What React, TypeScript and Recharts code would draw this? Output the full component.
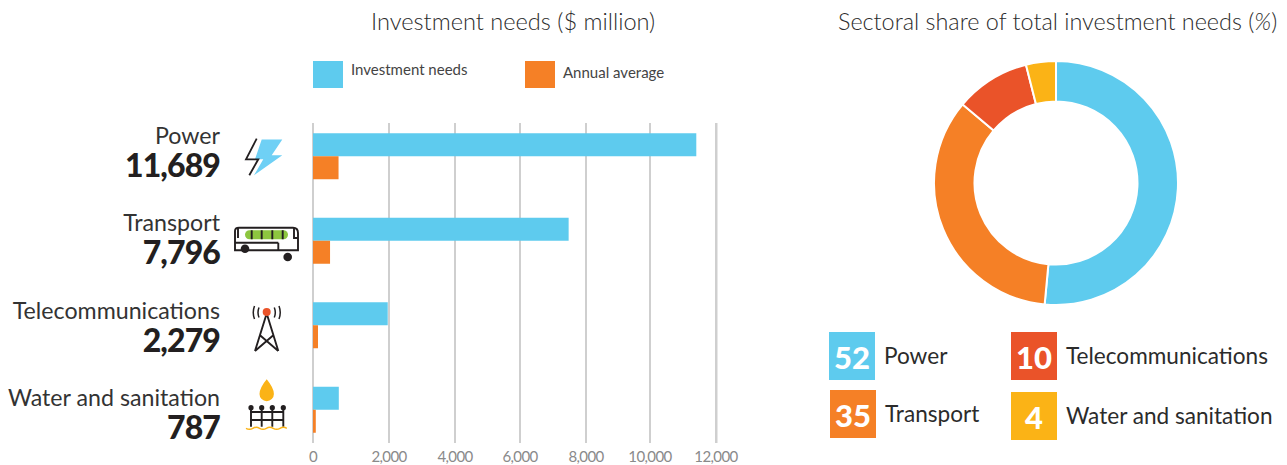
import { Bar, BarChart, CartesianGrid, Cell, Pie, PieChart, XAxis, YAxis } from "recharts"

const categories = ["Power", "Transport", "Telecommunications", "Water and sanitation"]
const investmentNeeds = [11689, 7796, 2279, 787]
const annualAverage = [779, 520, 152, 85]
const sectorShares = [52, 35, 10, 4]
const tickLabels = ["0", "2,000", "4,000", "6,000", "8,000", "10,000", "12,000"]
// the printed gridlines are unevenly spaced and run a little wide of the bars,
// so each label gets its own spot on the axis
const tickPositions = [0, 2318, 4330, 6313, 8325, 10277, 12290]
const axisMax = 12305

const BLUE = "#5ecbee"
const ORANGE = "#f58026"
const RED = "#ea5329"
const YELLOW = "#fbb316"
const INK = "#231f20"
const FONT = "Lato, 'Open Sans', sans-serif"

const sectorColors = [BLUE, ORANGE, RED, YELLOW]

const barData = categories.map((name, i) => ({
  name,
  needs: investmentNeeds[i],
  average: annualAverage[i],
}))
const pieData = categories.map((name, i) => ({ name, share: sectorShares[i] }))

function PowerIcon() {
  return (
    <g>
      <path d="M-4.3 -17 L16.3 -17 L5.7 -1.2 L16.3 -1.2 L-12 18.8 L-2.7 2.8 L-11 2.8 Z" fill="#6fd0f5" />
      <path d="M-9.3 -17.8 L-20 2.8 L-7.7 2.8 L-16.7 18.8" fill="none" stroke={INK} strokeWidth={1.8} />
    </g>
  )
}

function BusIcon() {
  return (
    <g fill="none" stroke={INK} strokeWidth={1.9}>
      <path d="M-31 9.3 L-31 -10 Q-31 -13.3 -27 -13.3 L27 -13.3 Q32 -13.3 32 -8 L32 9.3 Z" fill="#fff" />
      <rect x={-21} y={-10.7} width={43} height={9} rx={4.5} fill="#8dc63f" stroke="none" />
      <path d="M-14.3 -10.7 V-1.7 M-4.3 -10.7 V-1.7 M6.3 -10.7 V-1.7 M16.7 -10.7 V-1.7" />
      <path d="M-31 1.7 H12.3 M12.3 1.7 V9.3 M-28 -13 V-3 M28 -13 V-3 H32" />
      <circle cx={-21} cy={7.7} r={4.3} fill={INK} stroke="none" />
      <circle cx={21.7} cy={16} r={4.3} fill={INK} stroke="none" />
    </g>
  )
}

function TowerIcon() {
  return (
    <g fill="none" stroke={INK} strokeWidth={1.9}>
      <path d="M0.7 -12 L-11 25.5 M0.7 -12 L12.3 25.5 M-6 9.8 L12.3 25.5 M7.3 9.8 L-11 25.5" />
      <path d="M-7 -18 Q-9 -13 -7 -8 M8.3 -18 Q10.3 -13 8.3 -8 M-11.5 -19.5 Q-14 -13 -11.5 -6.5 M13 -19.5 Q15.5 -13 13 -6.5" strokeWidth={1.5} />
      <circle cx={0.7} cy={-13.5} r={4} fill={RED} stroke="none" />
    </g>
  )
}

function WaterIcon() {
  return (
    <g>
      <path d="M0.7 -30.7 Q-6.5 -22 -6.5 -16 A7.2 7.2 0 0 0 7.9 -16 Q7.9 -22 0.7 -30.7 Z" fill={YELLOW} />
      <g fill="none" stroke={INK} strokeWidth={1.9}>
        <path d="M-15 -2 V16.7 M-4.3 -2 V16.7 M6.3 -2 V16.7 M17.3 -2 V16.7 M-16 2 H18 M-16 10 H18" />
      </g>
      <g fill={INK}>
        <circle cx={-15} cy={-2.3} r={2.6} />
        <circle cx={-4.3} cy={-2.3} r={2.6} />
        <circle cx={6.3} cy={-2.3} r={2.6} />
        <circle cx={17.3} cy={-2.3} r={2.6} />
      </g>
      <path d="M-20 18.3 q3.4 2 6.8 0 t6.8 0 t6.8 0 t6.8 0 t6.8 0 t6.8 0" fill="none" stroke={YELLOW} strokeWidth={1.5} />
    </g>
  )
}

const sectorIcons = [PowerIcon, BusIcon, TowerIcon, WaterIcon]

// name, total and icon to the left of each row; the text block drifts down a little per row
function SectorTick({ y, payload, index }: any) {
  const Icon = sectorIcons[index]
  const drift = index * 2.8
  return (
    <g fontFamily={FONT}>
      <text x={220} y={y - 12.5 + drift} textAnchor="end" fontSize={23.2} fill="#333">
        {payload.value}
      </text>
      <text x={220} y={y + 20.5 + drift} textAnchor="end" fontSize={32} fontWeight={900} letterSpacing={-0.9} fill={INK}>
        {investmentNeeds[index].toLocaleString("en-US")}
      </text>
      <g transform={`translate(266 ${y})`}>
        <Icon />
      </g>
    </g>
  )
}

function KeyItem({ left, top, color, label, textTop }: any) {
  return (
    <>
      <div style={{ position: "absolute", left, top, width: 30, height: 27, background: color }} />
      <div style={{ position: "absolute", left: left + 38, top: textTop, fontSize: 15, color: "#444", whiteSpace: "nowrap" }}>{label}</div>
    </>
  )
}

function ShareTile({ left, top, index }: any) {
  return (
    <>
      <div
        style={{
          position: "absolute",
          left,
          top,
          width: 46,
          height: 48,
          background: sectorColors[index],
          color: "#fff",
          fontSize: 31,
          fontWeight: 900,
          lineHeight: "50px",
          textAlign: "center",
        }}
      >
        {sectorShares[index]}
      </div>
      <div style={{ position: "absolute", left: left + 55, top: top + 10, fontSize: 22.6, color: "#2b2b2b", lineHeight: "27px", whiteSpace: "nowrap" }}>
        {categories[index]}
      </div>
    </>
  )
}

export default function App() {
  return (
    <div style={{ position: "absolute", left: 0, top: 0, width: 1287, height: 465, background: "#fff", fontFamily: FONT, overflow: "hidden" }}>
      <div style={{ position: "absolute", left: 371, top: 7, fontSize: 23.6, fontWeight: 300, color: "#2c2c2c", whiteSpace: "nowrap" }}>
        Investment needs ($ million)
      </div>
      <div style={{ position: "absolute", left: 838, top: 7, fontSize: 23.4, fontWeight: 300, color: "#2c2c2c", whiteSpace: "nowrap" }}>
        Sectoral share of total investment needs (<i>%</i>)
      </div>

      <KeyItem left={313} top={61} color={BLUE} label="Investment needs" textTop={60} />
      <KeyItem left={525} top={61} color={ORANGE} label="Annual average" textTop={63} />

      <div style={{ position: "absolute", left: 0, top: 0 }}>
        <BarChart
          width={780}
          height={465}
          data={barData}
          layout="vertical"
          barSize={23}
          barGap={0}
          margin={{ top: 123, right: 63.5, bottom: 0, left: 0 }}
        >
          <CartesianGrid horizontal={false} stroke="#cfcfcf" strokeWidth={2} />
          <XAxis
            type="number"
            domain={[0, axisMax]}
            ticks={tickPositions}
            interval={0}
            axisLine={false}
            tickLine={false}
            height={22}
            tick={{ fontSize: 15, fill: "#8a8a8a", fontFamily: FONT, letterSpacing: -0.6 }}
            tickFormatter={(_v: number, i: number) => tickLabels[i]}
          />
          <YAxis
            type="category"
            dataKey="name"
            scale="point"
            width={313}
            interval={0}
            padding={{ top: 33.5, bottom: 33 }}
            axisLine={false}
            tickLine={false}
            tick={SectorTick}
          />
          <Bar dataKey="needs" fill={BLUE} isAnimationActive={false} />
          <Bar dataKey="average" fill={ORANGE} isAnimationActive={false} />
        </BarChart>
      </div>

      <div style={{ position: "absolute", left: 926, top: 53 }}>
        <PieChart width={260} height={260} margin={{ top: 0, right: 0, bottom: 0, left: 0 }}>
          <Pie
            data={pieData}
            dataKey="share"
            nameKey="name"
            cx={130}
            cy={130}
            innerRadius={81.5}
            outerRadius={122}
            startAngle={90}
            endAngle={-270}
            stroke="#fff"
            strokeWidth={2}
            isAnimationActive={false}
          >
            {pieData.map((d, i) => (
              <Cell key={d.name} fill={sectorColors[i]} />
            ))}
          </Pie>
        </PieChart>
      </div>

      <ShareTile left={829} top={332} index={0} />
      <ShareTile left={830} top={390} index={1} />
      <ShareTile left={1011} top={332} index={2} />
      <ShareTile left={1011} top={392} index={3} />
    </div>
  )
}
